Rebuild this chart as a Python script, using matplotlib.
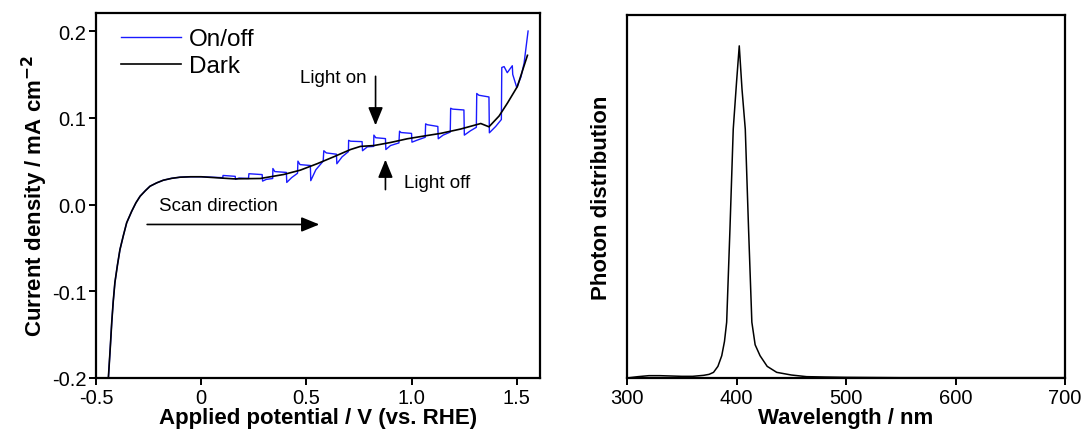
import matplotlib
matplotlib.use("Agg")
import matplotlib.pyplot as plt

plt.rcParams['font.family'] = ['Liberation Sans', 'DejaVu Sans']

# Left panel: chopped-light LSV
dark_v = [-0.441, -0.432, -0.425, -0.418, -0.410, -0.398, -0.386, -0.370, -0.354, -0.330,
          -0.310, -0.290, -0.265, -0.243, -0.211, -0.180, -0.140, -0.100, -0.05, 0.0,
          0.154, 0.281, 0.392, 0.471, 0.551, 0.630, 0.71, 0.757, 0.821, 0.90,
          0.98, 1.06, 1.138, 1.233, 1.329, 1.368, 1.416, 1.456, 1.503, 1.551]
dark_j = [-0.200, -0.165, -0.136, -0.112, -0.090, -0.070, -0.052, -0.036, -0.021, -0.0077,
          0.002, 0.0096, 0.016, 0.0211, 0.025, 0.028, 0.0302, 0.0315, 0.032, 0.032,
          0.0296, 0.030, 0.0346, 0.0396, 0.047, 0.055, 0.0634, 0.067, 0.068, 0.0715,
          0.0758, 0.079, 0.0820, 0.0870, 0.0934, 0.0896, 0.102, 0.117, 0.136, 0.172]

onoff_v = [-0.441, -0.432, -0.425, -0.418, -0.410, -0.398, -0.386, -0.370, -0.354, -0.330,
           -0.310, -0.290, -0.265, -0.243, -0.211, -0.180, -0.140, -0.100, -0.05, 0.0, 0.10,
           0.103, 0.104, 0.162, 0.163, 0.18, 0.225,
           0.227, 0.29, 0.292, 0.31, 0.34,
           0.341, 0.35, 0.405, 0.407, 0.43, 0.458,
           0.460, 0.47, 0.519, 0.521, 0.545, 0.58,
           0.583, 0.595, 0.643, 0.645, 0.67, 0.70,
           0.701, 0.71, 0.765, 0.767, 0.79, 0.82,
           0.821, 0.83, 0.876, 0.878, 0.90, 0.94,
           0.943, 0.95, 1.0, 1.002, 1.03, 1.065,
           1.067, 1.075, 1.125, 1.127, 1.15, 1.184,
           1.186, 1.195, 1.249, 1.251, 1.28, 1.308,
           1.31, 1.32, 1.368, 1.370, 1.40, 1.427,
           1.429, 1.44, 1.455, 1.479, 1.481, 1.50, 1.52,
           1.535, 1.554]
onoff_j = [-0.200, -0.165, -0.136, -0.112, -0.090, -0.070, -0.052, -0.036, -0.021, -0.0077,
           0.002, 0.0096, 0.016, 0.0211, 0.025, 0.028, 0.0302, 0.0315, 0.032, 0.032, 0.031,
           0.031, 0.0335, 0.0325, 0.029, 0.0305, 0.030,
           0.0355, 0.0345, 0.027, 0.029, 0.030,
           0.0415, 0.038, 0.037, 0.0255, 0.031, 0.036,
           0.050, 0.046, 0.045, 0.0275, 0.040, 0.050,
           0.062, 0.0595, 0.058, 0.047, 0.055, 0.061,
           0.074, 0.073, 0.0725, 0.062, 0.0665, 0.067,
           0.080, 0.077, 0.076, 0.0634, 0.068, 0.071,
           0.0845, 0.083, 0.082, 0.0719, 0.0745, 0.0775,
           0.093, 0.092, 0.090, 0.0758, 0.080, 0.0835,
           0.111, 0.110, 0.109, 0.080, 0.085, 0.089,
           0.128, 0.126, 0.124, 0.0827, 0.090, 0.098,
           0.158, 0.159, 0.152, 0.160, 0.150, 0.135, 0.147,
           0.163, 0.200]

# Right panel: lamp photon distribution
wl = [300, 310, 320, 330, 340, 350, 360, 370, 375, 379, 383, 386.5, 389, 391, 394, 397, 400, 402.5,
      405, 408, 411, 414, 417, 421.5, 428, 436.7, 450, 464, 480, 500, 550, 600, 650, 700]
photon = [0.0, 0.004, 0.007, 0.007, 0.006, 0.005, 0.005, 0.008, 0.011, 0.017, 0.035, 0.067, 0.11, 0.168,
          0.448, 0.749, 0.89, 1.0, 0.87, 0.749, 0.448, 0.168, 0.10, 0.067, 0.035, 0.017, 0.009, 0.004,
          0.003, 0.002, 0.001, 0.001, 0.001, 0.001]

fig = plt.figure(figsize=(10.88, 4.39), dpi=100)
ax1 = fig.add_axes([0.0882, 0.1367, 0.408, 0.8314])
ax2 = fig.add_axes([0.5763, 0.1367, 0.4026, 0.8269])

ax1.plot(onoff_v, onoff_j, color='#1a1aff', lw=1.0, label='On/off')
ax1.plot(dark_v, dark_j, color='black', lw=1.2, label='Dark')
ax1.set_xlim(-0.5, 1.61)
ax1.set_ylim(-0.2, 0.2208)
ax1.set_xticks([-0.5, 0, 0.5, 1.0, 1.5])
ax1.set_xticklabels(['-0.5', '0', '0.5', '1.0', '1.5'])
ax1.set_yticks([-0.2, -0.1, 0.0, 0.1, 0.2])
ax1.set_yticklabels(['-0.2', '-0.1', '0.0', '0.1', '0.2'])
ax1.set_xlabel('Applied potential / V (vs. RHE)', fontsize=16, fontweight='bold', labelpad=0)
ax1.set_ylabel('Current density / mA cm$^{\\mathbf{-2}}$', fontsize=16, fontweight='bold', labelpad=1)
ax1.legend(loc='upper left', frameon=False, fontsize=17.5, handlelength=2.45, handletextpad=0.35,
           labelspacing=0.2, borderaxespad=0.0, bbox_to_anchor=(0.035, 0.985))

ann = dict(fontsize=13.5)
head = '-|>,head_length=1.1,head_width=0.45'
ax1.text(0.08, -0.001, 'Scan direction', ha='center', va='center', **ann)
ax1.annotate('', xy=(0.575, -0.023), xytext=(-0.27, -0.023),
             arrowprops=dict(arrowstyle=head, color='black', lw=1.2))
ax1.text(0.63, 0.146, 'Light on', ha='center', va='center', **ann)
ax1.annotate('', xy=(0.829, 0.088), xytext=(0.829, 0.151),
             arrowprops=dict(arrowstyle=head, color='black', lw=1.2))
ax1.text(1.124, 0.025, 'Light off', ha='center', va='center', **ann)
ax1.annotate('', xy=(0.876, 0.055), xytext=(0.876, 0.014),
             arrowprops=dict(arrowstyle=head, color='black', lw=1.2))

ax2.plot(wl, photon, color='black', lw=1.1)
ax2.set_xlim(300, 700)
ax2.set_ylim(0, 1.093)
ax2.set_xticks([300, 400, 500, 600, 700])
ax2.set_yticks([])
ax2.set_xlabel('Wavelength / nm', fontsize=16, fontweight='bold', labelpad=0)
ax2.set_ylabel('Photon distribution', fontsize=16, fontweight='bold', labelpad=11)

for ax in (ax1, ax2):
    for s in ax.spines.values():
        s.set_linewidth(1.6)
    ax.tick_params(direction='out', length=5, width=1.4, labelsize=14.5, pad=2)

fig.savefig('out.png', dpi=100, facecolor='white')
